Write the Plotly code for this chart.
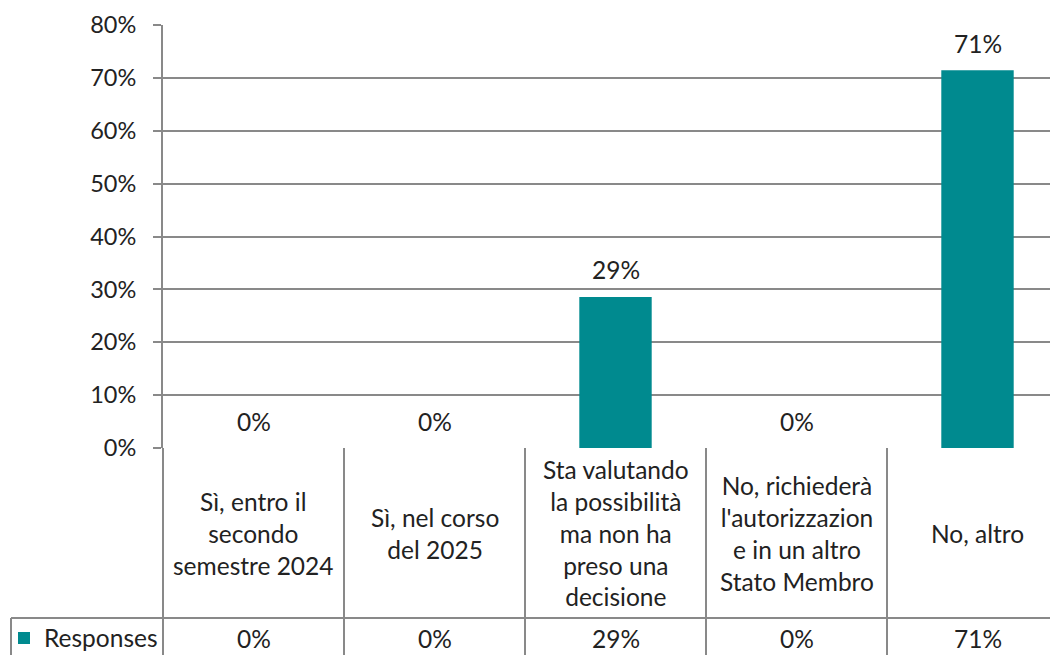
import plotly.graph_objects as go

categories = [
    "Sì, entro il<br>secondo<br>semestre 2024",
    "Sì, nel corso<br>del 2025",
    "Sta valutando<br>la possibilità<br>ma non ha<br>preso una<br>decisione",
    "No, richiederà<br>l'autorizzazion<br>e in un altro<br>Stato Membro",
    "No, altro",
]
values = [0, 0, 28.57, 0, 71.43]
series_name = "Responses"
y_ticks = [0, 10, 20, 30, 40, 50, 60, 70, 80]
y_tick_labels = [f"{t}%" for t in y_ticks]

OFF = 8                          # page body margin of the html page
W, H = 1058 - OFF, 655 - OFF     # figure size
L, T, B = 163 - OFF, 25 - OFF, 448 - OFF   # plot area pixel edges (figure coords)
COL_W = 181                      # pixel width of one category column
TEAL = "#008A8F"
GRID = "#898989"
TXT = "#222222"
FONT = "Lato"
FS = 24.5

xmin = -0.5
xmax = -0.5 + (W - L) / COL_W
n = len(categories)
idx = list(range(n))


def px_x(p):
    """screen pixel x -> paper x"""
    return (p - OFF - L) / (W - L)


def px_y(p):
    """screen pixel y -> paper y"""
    return (B - (p - OFF)) / (B - T)


def data_x(v):
    return (v - xmin) / (xmax - xmin)


fig = go.Figure()
fig.add_trace(go.Bar(
    x=idx, y=values, name=series_name, width=0.4,
    marker=dict(color=TEAL, line=dict(width=0)),
    showlegend=True, hoverinfo="skip",
))

annotations = []
# data labels above bars
for i, v in zip(idx, values):
    annotations.append(dict(
        x=i, y=v, xref="x", yref="y", text=f"{round(v)}%",
        showarrow=False, yanchor="middle", yshift=27,
        font=dict(family=FONT, size=FS, color=TXT),
    ))
# category labels in the data table
for i, c in zip(idx, categories):
    annotations.append(dict(
        x=i, y=px_y(533), xref="x", yref="paper", text=c,
        showarrow=False, yanchor="middle", xanchor="center", align="center",
        font=dict(family=FONT, size=FS, color=TXT),
    ))
# values row in the data table
for i, v in zip(idx, values):
    annotations.append(dict(
        x=i, y=px_y(638), xref="x", yref="paper", text=f"{round(v)}%",
        showarrow=False, yanchor="middle", xanchor="center",
        font=dict(family=FONT, size=FS, color=TXT),
    ))

shapes = []
line = dict(color=GRID, width=2)
# horizontal separator of the values row
shapes.append(dict(type="line", xref="paper", yref="paper",
                   x0=px_x(11), x1=1.0, y0=px_y(618), y1=px_y(618), line=line))
# left border of legend cell
shapes.append(dict(type="line", xref="paper", yref="paper",
                   x0=px_x(11), x1=px_x(11), y0=px_y(618), y1=px_y(670), line=line))
# column separators of the data table
for k in range(n):
    xb = data_x(k - 0.5)
    shapes.append(dict(type="line", xref="paper", yref="paper",
                       x0=xb, x1=xb, y0=0, y1=px_y(670), line=line))

fig.update_layout(
    width=W, height=H,
    margin=dict(l=L, r=0, t=T, b=H - B, pad=0, autoexpand=False),
    paper_bgcolor="white", plot_bgcolor="white",
    font=dict(family=FONT, size=FS, color=TXT),
    xaxis=dict(range=[xmin, xmax], showgrid=False, zeroline=False,
               showticklabels=False, showline=False, ticks=""),
    yaxis=dict(range=[0, 80], tickmode="array", tickvals=y_ticks,
               ticktext=y_tick_labels,
               showgrid=True, gridcolor=GRID, gridwidth=2,
               zeroline=False, showline=True, linecolor=GRID, linewidth=2,
               ticks="outside", ticklen=8, tickcolor=GRID, tickwidth=2,
               ticklabelstandoff=12,
               tickfont=dict(family=FONT, size=23.5, color=TXT)),
    showlegend=True,
    legend=dict(x=px_x(4), y=px_y(638), xanchor="left", yanchor="middle",
                bgcolor="rgba(0,0,0,0)", borderwidth=0,
                font=dict(family=FONT, size=FS, color=TXT),
                itemclick=False, itemdoubleclick=False),
    annotations=annotations,
    shapes=shapes,
)

fig.write_html("out.html")
